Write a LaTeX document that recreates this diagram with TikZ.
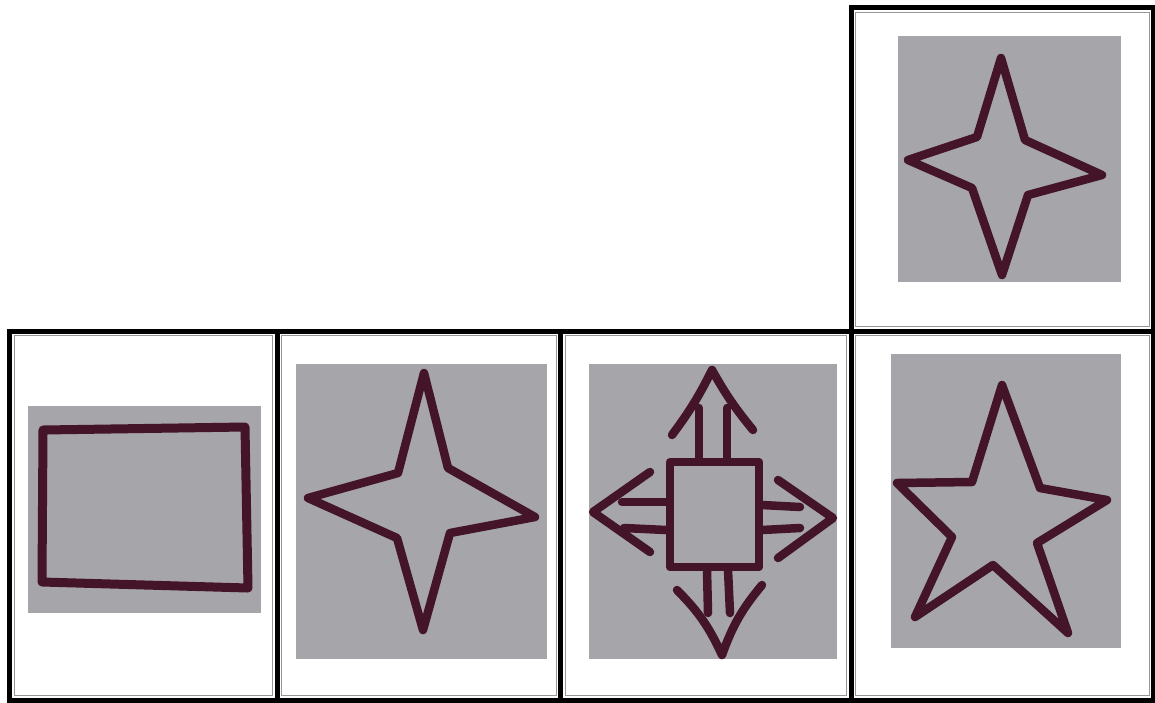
\documentclass[tikz,border=0pt]{standalone}
\definecolor{photocol}{RGB}{166,166,170}
\definecolor{yarncol}{RGB}{68,20,40}
\definecolor{thincol}{RGB}{150,150,150}
\begin{document}
\begin{tikzpicture}[x=1pt,y=-1pt,
  frame/.style={line width=5pt, draw=black, line cap=rect},
  innerline/.style={line width=0.9pt, draw=thincol},
  photo/.style={fill=photocol},
  yarn/.style={draw=yarncol, line width=8.5pt, line join=round, line cap=round}]
\useasboundingbox (0,0) rectangle (1155,702);
\fill[white] (0,0) rectangle (1155,702);

% photos
\fill[photo] (898,36) rectangle (1121,282);
\fill[photo] (28,406) rectangle (261,613);
\fill[photo] (296,364) rectangle (547,659);
\fill[photo] (589,364) rectangle (837,659);
\fill[photo] (891,354) rectangle (1121,648);

% top-right four-pointed star
\draw[yarn] (1001,58) -- (1025,140) -- (1102,175) -- (1028,195) -- (1002,275)
  -- (972,188) -- (908,160) -- (977,137) -- cycle;

% rectangle
\draw[yarn, line width=9pt] (43,430) -- (245,427) -- (248,588) -- (42,582) -- cycle;

% four-pointed star bottom
\draw[yarn] (424,373) -- (448,468) -- (535,517) -- (450,533) -- (423,630)
  -- (397,538) -- (308,498) -- (398,473) -- cycle;

% square with arrows
\draw[yarn] (670,462) rectangle (759,567);
% up
\draw[yarn] (699,408) -- (699,458);
\draw[yarn] (727,408) -- (727,458);
\draw[yarn] (672,435) to[bend right=5] (712,370) to[bend right=5] (753,430);
% left
\draw[yarn] (622,502) -- (666,502);
\draw[yarn] (624,528) -- (666,530);
\draw[yarn] (650,472) -- (593,512) -- (650,552);
% right
\draw[yarn] (762,505) -- (800,507);
\draw[yarn] (762,530) -- (800,528);
\draw[yarn] (778,480) -- (833,518) -- (778,558);
% down
\draw[yarn] (707,570) -- (708,613);
\draw[yarn] (728,570) -- (730,613);
\draw[yarn] (677,590) to[bend left=10] (722,655) to[bend left=10] (762,585);

% five-pointed star
\draw[yarn] (1002,385) -- (1040,488) -- (1107,500) -- (1037,543) -- (1068,633)
  -- (993,565) -- (915,617) -- (952,537) -- (897,483) -- (972,482) -- cycle;

% thin inner lines
\draw[innerline] (855.5,12) rectangle (1149,326.5);
\draw[innerline] (14,335.5) rectangle (272.5,695.5);
\draw[innerline] (281.5,335.5) rectangle (556,695.5);
\draw[innerline] (565,335.5) rectangle (846.5,695.5);
\draw[innerline] (855.5,335.5) rectangle (1149,695.5);

% frames
\draw[frame] (9.5,331) rectangle (1153.5,700);
\draw[frame] (277,331) -- (277,700);
\draw[frame] (560.5,331) -- (560.5,700);
\draw[frame] (851,331) -- (851,700);
\draw[frame] (851,331) -- (851,7.5) -- (1153.5,7.5) -- (1153.5,331);
\end{tikzpicture}
\end{document}
